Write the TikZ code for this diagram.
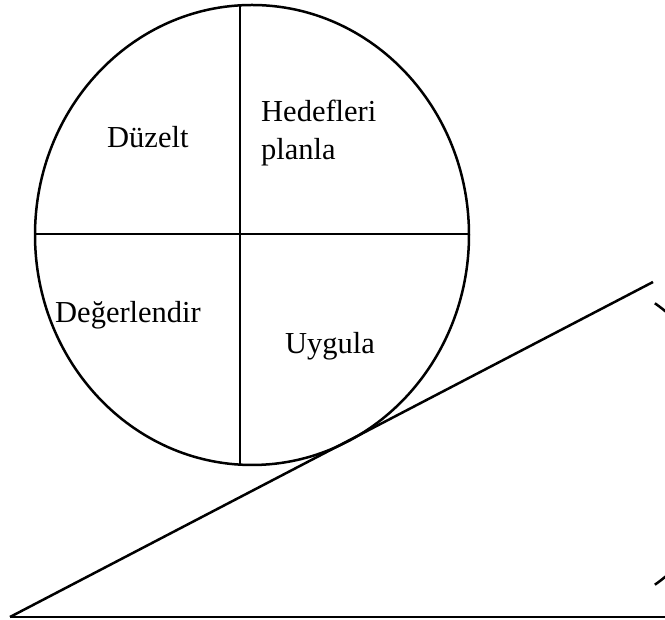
\documentclass[tikz,border=0pt]{standalone}
\usepackage{fontspec}
\setmainfont{Liberation Serif}
\begin{document}
\begin{tikzpicture}[x=1pt,y=1pt,
  ln/.style={line width=2.5pt,black},
  lbl/.style={inner sep=0pt,anchor=base west,font=\fontsize{30.5}{36}\selectfont}]
\useasboundingbox (0,0) rectangle (665,620);
\clip (0,0) rectangle (665,620);
% circle divided into four
\coordinate (c) at (252,385);
\draw[ln] (c) ellipse [x radius=217, y radius=230];
\coordinate (vt) at (240,614.6);
\coordinate (vb) at (240,155.4);
\coordinate (hl) at (35,386);
\coordinate (hr) at (469,386);
\draw[ln] (vt) -- (vb);
\draw[ln] (hl) -- (hr);
% triangle
\coordinate (A) at (10,3);
\coordinate (B) at (670,3);
\coordinate (C) at (653,338);
\draw[ln] (A) -- (B);
\draw[ln] (A) -- (C);
% bracket arc at right edge
\coordinate (ac) at (556,176);
\draw[ln] (ac) ++(-54.9:172) arc[start angle=-54.9, end angle=54.9, radius=172];
% labels
\node[lbl] (t1) at (107,472) {Düzelt};
\node[lbl] (t2) at (261,498) {Hedefleri};
\node[lbl] (t3) at (261,460) {planla};
\node[lbl] (t4) at (55,297) {Değerlendir};
\node[lbl] (t5) at (285,266) {Uygula};
\end{tikzpicture}
\end{document}
